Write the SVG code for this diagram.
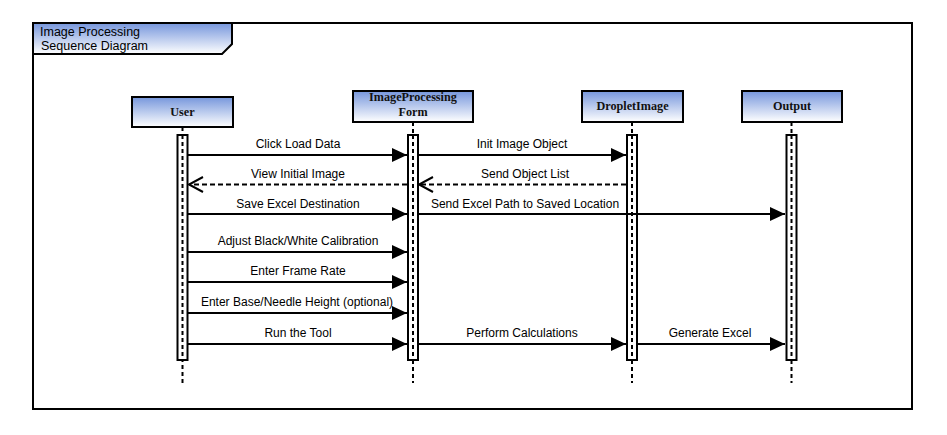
<svg xmlns="http://www.w3.org/2000/svg" width="947" height="435" viewBox="0 0 947 435">
<style>
.frame{fill:none;stroke:#000;stroke-width:2}
.box{fill:url(#g);stroke:#000;stroke-width:2}
.nlabel{font-family:"Liberation Serif","Times New Roman",serif;font-size:12.2px;font-weight:bold;fill:#111;text-anchor:middle}
.title{font-family:"Liberation Sans",Arial,sans-serif;font-size:12.5px;fill:#000}
.life{stroke:#000;stroke-width:2;stroke-dasharray:4 3;fill:none}
.act{fill:#fff;stroke:#000;stroke-width:2}
.msg{stroke:#000;stroke-width:2;fill:none;marker-end:url(#solid)}
.ret{stroke:#000;stroke-width:2;fill:none;stroke-dasharray:5 3;marker-end:url(#open)}
.mlabel{font-family:"Liberation Sans",Arial,sans-serif;font-size:12px;fill:#000;text-anchor:middle}
</style>
<defs>
<linearGradient id="g" x1="0" y1="0" x2="0" y2="1">
<stop offset="0" stop-color="#7696dc"/>
<stop offset="1" stop-color="#ffffff"/>
</linearGradient>
<marker id="solid" markerUnits="userSpaceOnUse" markerWidth="16" markerHeight="16" refX="15" refY="7" orient="auto" overflow="visible">
<path d="M0,0 L15,7 L0,14 Z" fill="#000"/>
</marker>
<marker id="open" markerUnits="userSpaceOnUse" markerWidth="16" markerHeight="16" refX="14" refY="7.5" orient="auto" overflow="visible">
<path d="M0,0 L14,7.5 L0,15" fill="none" stroke="#000" stroke-width="2"/>
</marker>
</defs>
<rect x="0" y="0" width="947" height="435" fill="#fff"/>
<g id="frame">
<rect class="frame" x="33" y="23" width="879" height="386"/>
<path d="M33,23 H232 V44 L222,54 H33 Z" fill="url(#g)" stroke="#000" stroke-width="2"/>
<text class="title" x="40" y="36">Image Processing</text>
<text class="title" x="41" y="50">Sequence Diagram</text>
</g>
<g id="user">
<line class="life" x1="182.5" y1="127" x2="182.5" y2="383"/>
<rect class="act" x="177.5" y="135" width="10" height="225"/>
<line class="life" x1="182.5" y1="135" x2="182.5" y2="360"/>
<rect class="box" x="132" y="97" width="101" height="30"/>
<text class="nlabel" x="182.5" y="116">User</text>
</g>
<g id="form">
<line class="life" x1="413" y1="122" x2="413" y2="383"/>
<rect class="act" x="408" y="135" width="10" height="225"/>
<line class="life" x1="413" y1="135" x2="413" y2="360"/>
<rect class="box" x="353" y="91" width="120" height="31"/>
<text class="nlabel" x="413" y="101">ImageProcessing</text>
<text class="nlabel" x="413" y="116">Form</text>
</g>
<g id="droplet">
<line class="life" x1="632" y1="122" x2="632" y2="383"/>
<rect class="act" x="627" y="135" width="10" height="225"/>
<line class="life" x1="632" y1="135" x2="632" y2="360"/>
<rect class="box" x="582" y="91" width="101" height="31"/>
<text class="nlabel" x="632.5" y="110">DropletImage</text>
</g>
<g id="output">
<line class="life" x1="791.5" y1="122" x2="791.5" y2="383"/>
<rect class="act" x="786.5" y="135" width="10" height="225"/>
<line class="life" x1="791.5" y1="135" x2="791.5" y2="360"/>
<rect class="box" x="742" y="91" width="100" height="31"/>
<text class="nlabel" x="792" y="110">Output</text>
</g>
<g id="connectors">
<line class="msg" x1="188" y1="155" x2="407" y2="155"/>
<text class="mlabel" x="298" y="148">Click Load Data</text>
<line class="msg" x1="418" y1="155" x2="626" y2="155"/>
<text class="mlabel" x="522" y="148">Init Image Object</text>
<line class="ret" x1="407" y1="184.5" x2="189" y2="184.5"/>
<text class="mlabel" x="298" y="178">View Initial Image</text>
<line class="ret" x1="626" y1="184.5" x2="419" y2="184.5"/>
<text class="mlabel" x="525" y="178">Send Object List</text>
<line class="msg" x1="188" y1="214" x2="407" y2="214"/>
<text class="mlabel" x="298" y="208">Save Excel Destination</text>
<line class="msg" x1="418" y1="214" x2="785" y2="214"/>
<text class="mlabel" x="525" y="208">Send Excel Path to Saved Location</text>
<line class="msg" x1="188" y1="252" x2="407" y2="252"/>
<text class="mlabel" x="298" y="245">Adjust Black/White Calibration</text>
<line class="msg" x1="188" y1="282" x2="407" y2="282"/>
<text class="mlabel" x="298" y="275">Enter Frame Rate</text>
<line class="msg" x1="188" y1="313" x2="407" y2="313"/>
<text class="mlabel" x="297" y="306">Enter Base/Needle Height (optional)</text>
<line class="msg" x1="188" y1="344" x2="407" y2="344"/>
<text class="mlabel" x="298" y="337">Run the Tool</text>
<line class="msg" x1="418" y1="344" x2="626" y2="344"/>
<text class="mlabel" x="522" y="337">Perform Calculations</text>
<line class="msg" x1="637" y1="344" x2="785" y2="344"/>
<text class="mlabel" x="710" y="337">Generate Excel</text>
</g>
</svg>
